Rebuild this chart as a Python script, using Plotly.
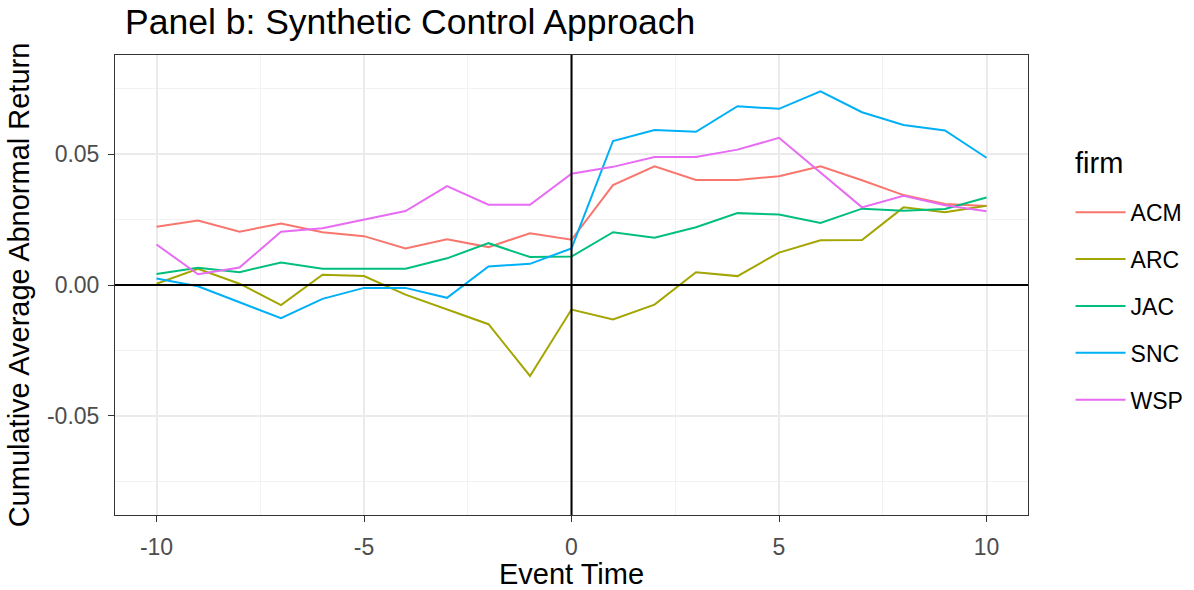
import plotly.graph_objects as go

# Event window (days relative to announcement)
event_time = list(range(-10, 11))

# Cumulative average abnormal returns by firm
acm = [0.0223, 0.0247, 0.0204, 0.0235, 0.0202, 0.0187, 0.0140, 0.0175, 0.0145, 0.0198, 0.0173,
       0.0382, 0.0454, 0.0402, 0.0402, 0.0416, 0.0454, 0.0401, 0.0344, 0.0310, 0.0302]
arc = [0.0005, 0.0062, 0.0005, -0.0077, 0.0039, 0.0034, -0.0037, -0.0094, -0.0150, -0.0348, -0.0094,
       -0.0132, -0.0075, 0.0049, 0.0034, 0.0124, 0.0171, 0.0172, 0.0297, 0.0278, 0.0303]
jac = [0.0042, 0.0066, 0.0049, 0.0086, 0.0062, 0.0062, 0.0062, 0.0102, 0.0160, 0.0107, 0.0109,
       0.0202, 0.0181, 0.0221, 0.0275, 0.0270, 0.0237, 0.0292, 0.0284, 0.0291, 0.0335]
snc = [0.0025, -0.0005, -0.0066, -0.0127, -0.0053, -0.0011, -0.0011, -0.0049, 0.0071, 0.0081, 0.0140,
       0.0551, 0.0593, 0.0586, 0.0684, 0.0674, 0.0741, 0.0661, 0.0612, 0.0591, 0.0487]
wsp = [0.0155, 0.0041, 0.0067, 0.0204, 0.0217, 0.0251, 0.0283, 0.0378, 0.0307, 0.0307, 0.0426,
       0.0452, 0.0490, 0.0490, 0.0518, 0.0563, 0.0429, 0.0297, 0.0341, 0.0305, 0.0282]

firms = ["ACM", "ARC", "JAC", "SNC", "WSP"]
series = [acm, arc, jac, snc, wsp]
colors = ["#F8766D", "#A3A500", "#00BF7D", "#00B0F6", "#E76BF3"]

x_tick_vals = [-10, -5, 0, 5, 10]
x_tick_text = ["-10", "-5", "0", "5", "10"]
y_tick_vals = [-0.05, 0.0, 0.05]
y_tick_text = ["-0.05", "0.00", "0.05"]

FONT = "Liberation Sans, Arial, sans-serif"

fig = go.Figure()
for name, vals, col in zip(firms, series, colors):
    fig.add_trace(go.Scatter(
        x=event_time, y=vals, mode="lines", name=name,
        legendgroup=name,
        line=dict(color=col, width=2),
    ))

axis_common = dict(
    automargin=False,
    showline=True, mirror=True, linecolor="#333333", linewidth=1,
    ticks="outside", ticklen=6, tickcolor="#333333", tickwidth=1,
    tickfont=dict(family=FONT, size=23, color="#4D4D4D"),
    showgrid=True, gridcolor="#EBEBEB", gridwidth=1.5,
    zeroline=False,
)

fig.update_xaxes(
    range=[-11, 11], tickmode="array", tickvals=x_tick_vals, ticktext=x_tick_text,
    minor=dict(tick0=-7.5, dtick=5, showgrid=True, gridcolor="#F2F2F2", gridwidth=1),
    ticklabelstandoff=5,
    title=dict(text="Event Time", font=dict(family=FONT, size=29, color="#000000"), standoff=8),
    **axis_common,
)
fig.update_yaxes(
    range=[-0.088, 0.088], tickmode="array", tickvals=y_tick_vals, ticktext=y_tick_text,
    minor=dict(tick0=-0.075, dtick=0.05, showgrid=True, gridcolor="#F2F2F2", gridwidth=1),
    ticklabelstandoff=4,
    title=dict(text="Cumulative Average Abnormal Return",
               font=dict(family=FONT, size=29, color="#000000"), standoff=8),
    **axis_common,
)

# Reference lines at zero event time and zero return, drawn over the series
fig.add_hline(y=0, line=dict(color="#000000", width=2), layer="above")
fig.add_vline(x=0, line=dict(color="#000000", width=2), layer="above")

# Legend heading
fig.add_annotation(
    text="firm", xref="paper", yref="paper", x=1.049, y=0.765,
    xanchor="left", yanchor="middle", showarrow=False,
    font=dict(family=FONT, size=29, color="#000000"),
)

fig.update_layout(
    width=1194, height=590,
    margin=dict(l=115, r=166, t=55, b=75, autoexpand=False),
    paper_bgcolor="white", plot_bgcolor="white",
    title=dict(text="Panel b: Synthetic Control Approach",
               font=dict(family=FONT, size=35.5, color="#000000"),
               x=125 / 1194, xanchor="left", xref="container",
               y=1 - 22 / 590, yanchor="middle", yref="container"),
    legend=dict(
        font=dict(family=FONT, size=23, color="#000000"),
        x=1.0466, xanchor="left", y=0.705, yanchor="top",
        itemwidth=50,
        tracegroupgap=14, bgcolor="rgba(0,0,0,0)",
    ),
)

fig.write_html("out.html")
